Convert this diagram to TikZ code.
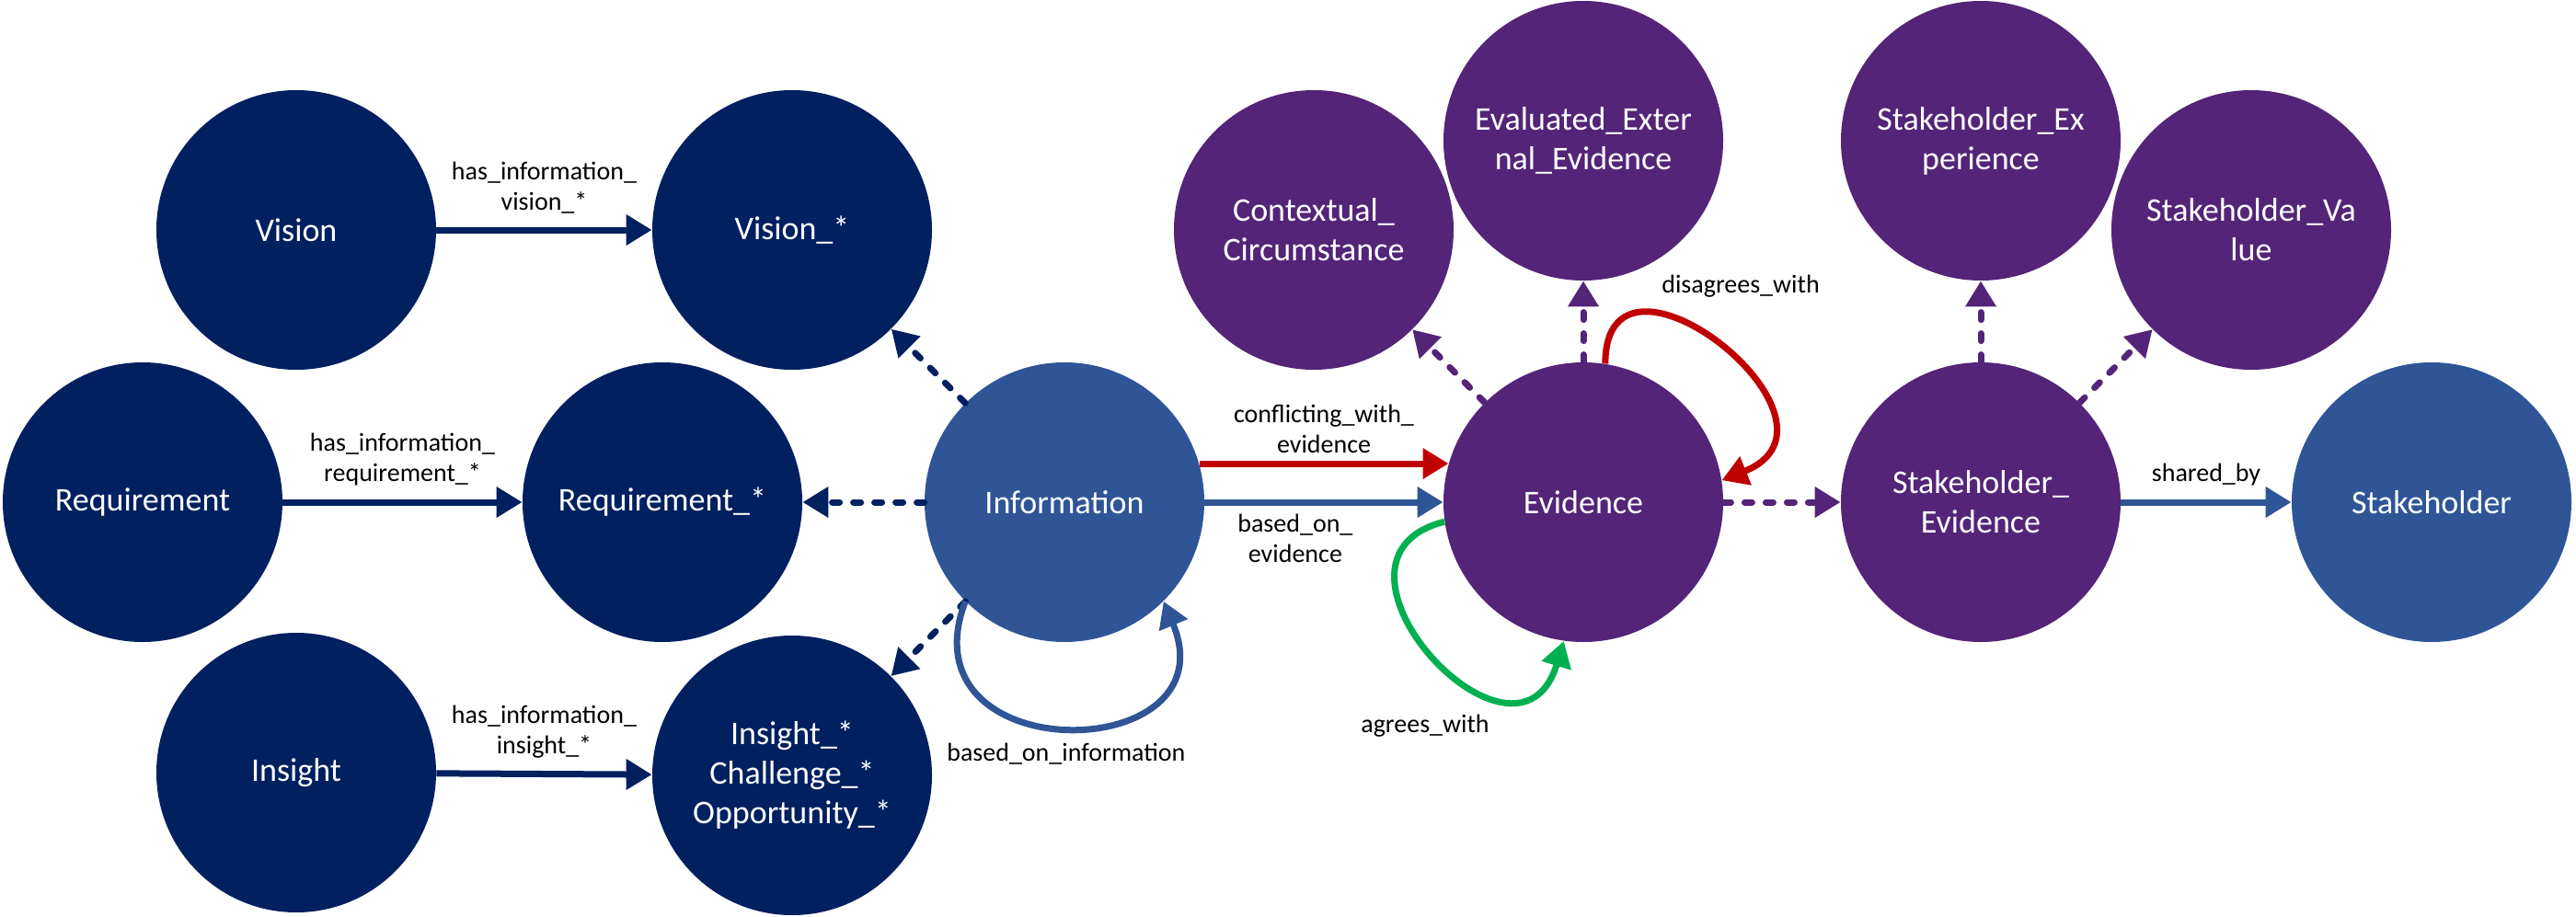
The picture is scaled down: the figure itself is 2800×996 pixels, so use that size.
\documentclass[tikz,border=0pt]{standalone}
\usepackage{fontspec}
\setmainfont{Carlito}
\usepackage{tikz}
\usetikzlibrary{arrows.meta}
\definecolor{navy}{HTML}{002060}
\definecolor{infoblue}{HTML}{2F5597}
\definecolor{evpurple}{HTML}{542478}
\definecolor{conflred}{HTML}{C00000}
\definecolor{agreegreen}{HTML}{00B050}

\begin{document}
\begin{tikzpicture}[x=0.5pt,y=-0.5pt,
	topic/.style={circle,fill=#1,minimum size=152pt,inner sep=0pt,text=white,align=center,font=\fontsize{18}{21.5}\selectfont},
	lbl/.style={font=\fontsize{14}{16.5}\selectfont,align=center,inner sep=2pt},
	rel/.style={draw=#1,line width=3.5pt,-{Triangle[length=14pt,width=16pt]}},
	partof/.style={rel=#1,line cap=round,dash pattern=on 4pt off 7.5pt}]
\useasboundingbox (0,0) rectangle (2800,996);
% information side
\node [topic=navy] (vis) at (322,250) {Vision};
\node [topic=navy] (visx) at (861,250) {Vision\_*};
\node [topic=navy] (req) at (155,546) {Requirement};
\node [topic=navy] (reqx) at (720,546) {Requirement\_*};
\node [topic=navy] (ins) at (322,840) {Insight};
\node [topic=navy] (insx) at (861,843) {Insight\_*\\Challenge\_*\\Opportunity\_*};
\node [topic=infoblue] (info) at (1157,546) {Information};
% evidence side
\node [topic=evpurple] (ctx) at (1428,250) {Contextual\_\\Circumstance};
\node [topic=evpurple] (evext) at (1721,153) {Evaluated\_Exter\\nal\_Evidence};
\node [topic=evpurple] (evid) at (1721,546) {Evidence};
\node [topic=evpurple] (shexp) at (2153,153) {Stakeholder\_Ex\\perience};
\node [topic=evpurple] (shval) at (2447,250) {Stakeholder\_Va\\lue};
\node [topic=evpurple] (shev) at (2153,546) {Stakeholder\_\\Evidence};
\node [topic=infoblue] (sh) at (2643,546) {Stakeholder};

\draw [rel=navy] (vis) -- node [lbl,above=5pt] {has\_information\_\\vision\_*} (visx);
\draw [rel=navy] (req) -- node [lbl,above=5pt] {has\_information\_\\requirement\_*} (reqx);
\draw [rel=navy] (ins) -- node [lbl,above=5pt] {has\_information\_\\insight\_*} (insx);
\draw [partof=navy] (info) -- (visx);
\draw [partof=navy] (info) -- (reqx);
\draw [partof=navy] (info) -- (insx);
\draw [rel=infoblue] (info.225) .. controls +(-70,185) and +(75,180) .. node [lbl,below=5pt] {based\_on\_information} (info.315);

\draw [rel=conflred] (info.16) -- node [lbl,above=2pt] {conflicting\_with\_\\evidence} (evid.164);
\draw [rel=infoblue] (info) -- node [lbl,below=3pt,pos=0.38] {based\_on\_\\evidence} (evid);
\draw [rel=conflred] (evid.81) .. controls +(0,-160) and +(158,-63) .. (evid.9);
\node [lbl] (dis) at (1892,311) {disagrees\_with};
\draw [rel=agreegreen] (evid.188) .. controls +(-160,40) and +(-51,168) .. (evid.262);
\node [lbl] (agr) at (1549,789) {agrees\_with};

\draw [partof=evpurple] (evid) -- (ctx);
\draw [partof=evpurple] (evid) -- (evext);
\draw [partof=evpurple] (evid) -- (shev);
\draw [partof=evpurple] (shev) -- (shexp);
\draw [partof=evpurple] (shev) -- (shval);
\draw [rel=infoblue] (shev) -- node [lbl,above=5pt] {shared\_by} (sh);
\end{tikzpicture}
\end{document}
